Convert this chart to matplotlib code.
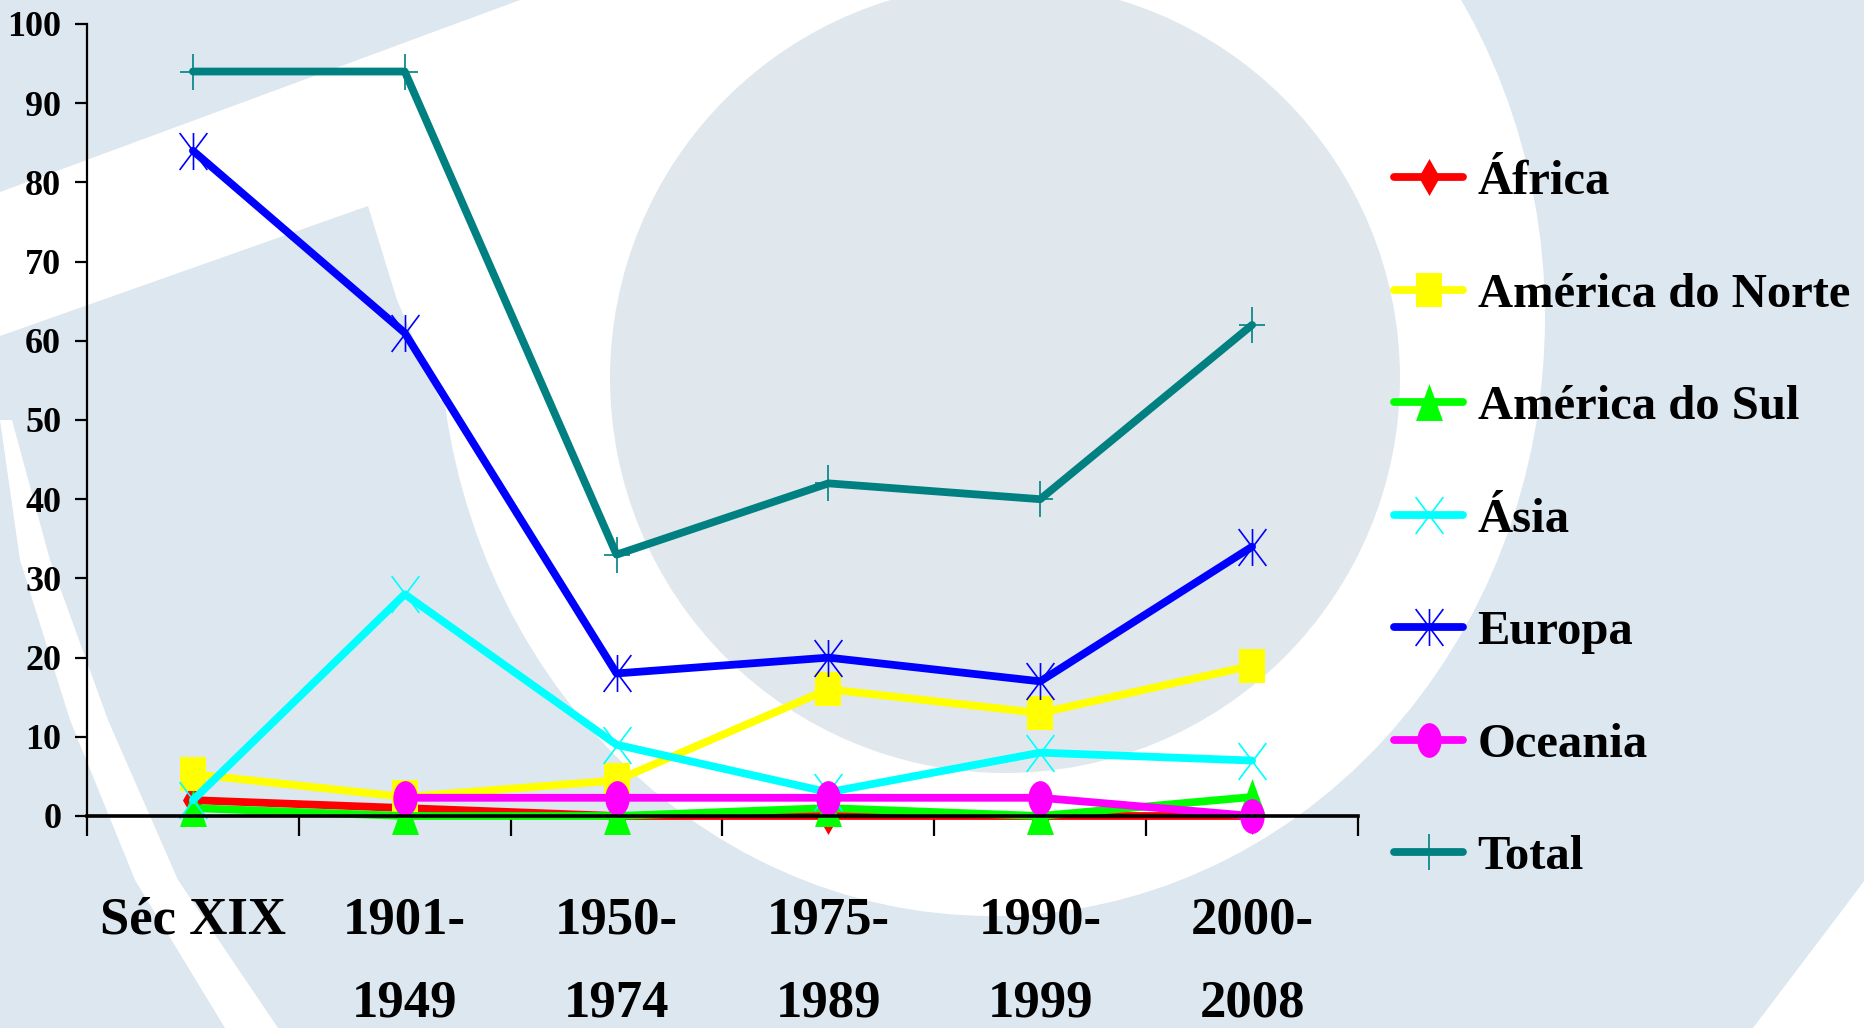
import numpy as np
import matplotlib; matplotlib.use("Agg")
import matplotlib.pyplot as plt
from matplotlib.path import Path
from matplotlib.transforms import Affine2D
from matplotlib.patches import Polygon, Circle, Ellipse

# dados (% por periodo)
categorias = ["Séc XIX", "1901-\n1949", "1950-\n1974", "1975-\n1989", "1990-\n1999", "2000-\n2008"]
africa = [2, 1, 0, 0, 0, 0]
am_norte = [5.3, 2.4, 4.5, 16, 13, 19]
am_sul = [1, 0, 0, 1, 0, 2.4]
asia = [2, 28, 9, 3, 8, 7]
europa = [84, 61, 18, 20, 17, 34]
oceania = [np.nan, 2.3, 2.3, 2.3, 2.3, 0]
total = [94, 94, 33, 42, 40, 62]
y_ticks = [0, 10, 20, 30, 40, 50, 60, 70, 80, 90, 100]

FONT = "Liberation Serif"
W, H = 1865, 1028
fig = plt.figure(figsize=(W/100, H/100), dpi=100)
fig.patch.set_facecolor("#dce7ef")

# marca d'agua do fundo (coordenadas em pixels, y para baixo)
bg = fig.add_axes([0, 0, 1, 1], zorder=-5)
bg.set_xlim(0, W); bg.set_ylim(H, 0); bg.axis("off")
bg.add_patch(Polygon([(0, 192), (520, 0), (1005, 0), (1005, 370), (440, 400),
                      (397, 300), (368, 206), (0, 336)], closed=True, fc="white", ec="none"))
bg.add_patch(Ellipse((992, 317), 1106, 1198, fc="white", ec="none"))
bg.add_patch(Circle((1005, 378), 395, fc="#e0e8ee", ec="none"))
bg.add_patch(Polygon([(0, 420), (20, 560), (70, 720), (135, 880), (225, 1028),
                      (278, 1028), (178, 880), (108, 720), (50, 560), (12, 420)],
                     closed=True, fc="white", ec="none"))
bg.add_patch(Polygon([(1865, 880), (1753, 1028), (1865, 1028)], closed=True, fc="white", ec="none"))

ax = fig.add_axes([87/W, (H-816)/H, (1358-87)/W, (816-24)/H])
ax.set_facecolor("none")

M, L = Path.MOVETO, Path.LINETO
diamante = Path([(0, 1), (0.57, 0), (0, -1), (-0.57, 0), (0, 1)], closed=True)
quadrado = Path([(-0.76, -1), (0.76, -1), (0.76, 1), (-0.76, 1), (-0.76, -1)], closed=True)
triangulo = Path([(0, 1), (0.73, -1), (-0.73, -1), (0, 1)], closed=True)
xis = Path([(-0.75, -1), (0.75, 1), (-0.75, 1), (0.75, -1)], [M, L, M, L])
asterisco = Path([(0, -1), (0, 1), (-0.75, -1), (0.75, 1), (-0.75, 1), (0.75, -1)], [M, L, M, L, M, L])
mais = Path([(0, -1), (0, 1), (-0.73, 0), (0.73, 0)], [M, L, M, L])
elipse = Path.unit_circle().transformed(Affine2D().scale(0.7, 1))

x = np.arange(len(categorias))
series = [
    ("África", africa, "#ff0000", diamante, 26.6, True),
    ("América do Norte", am_norte, "#ffff00", quadrado, 24, True),
    ("América do Sul", am_sul, "#00ff00", triangulo, 26.6, True),
    ("Ásia", asia, "#00ffff", xis, 26.6, False),
    ("Europa", europa, "#0000ff", asterisco, 26.6, False),
    ("Oceania", oceania, "#ff00ff", elipse, 25, True),
    ("Total", total, "#008080", mais, 26.6, False),
]
for nome, vals, cor, mk, ms, cheio in series:
    ax.plot(x, vals, color=cor, lw=5.6, marker=mk, ms=ms,
            mfc=cor if cheio else "none", mec=cor, mew=0 if cheio else 1.2,
            clip_on=False, label=nome, solid_capstyle="round")

ax.set_xlim(-0.5, 5.5); ax.set_ylim(0, 100)
for s in ["top", "right"]:
    ax.spines[s].set_visible(False)
ax.spines["left"].set_linewidth(1.6)
ax.spines["bottom"].set_linewidth(2.6)

ax.set_yticks(y_ticks)
ax.set_yticklabels([str(v) for v in y_ticks], family=FONT, weight="bold", fontsize=26)
ax.tick_params(axis="y", direction="out", length=8.6, width=1.6, pad=10)
ax.set_xticks(np.arange(-0.5, 6, 1))
ax.set_xticklabels([])
ax.tick_params(axis="x", which="major", direction="out", length=14.5, width=1.6)
ax.set_xticks(x, minor=True)
ax.set_xticklabels(categorias, minor=True, family=FONT, weight="bold", fontsize=38,
                   linespacing=1.95, va="top")
ax.tick_params(axis="x", which="minor", length=0, pad=58)

leg = fig.legend(*ax.get_legend_handles_labels(), loc="upper left",
                 bbox_to_anchor=(1394/W, 1 - 160/H), frameon=False,
                 borderpad=0, borderaxespad=0, handlelength=1.42, handletextpad=0.3,
                 labelspacing=1.41, prop={"family": FONT, "weight": "bold", "size": 35})

fig.savefig("out.png", dpi=100, facecolor=fig.get_facecolor())
